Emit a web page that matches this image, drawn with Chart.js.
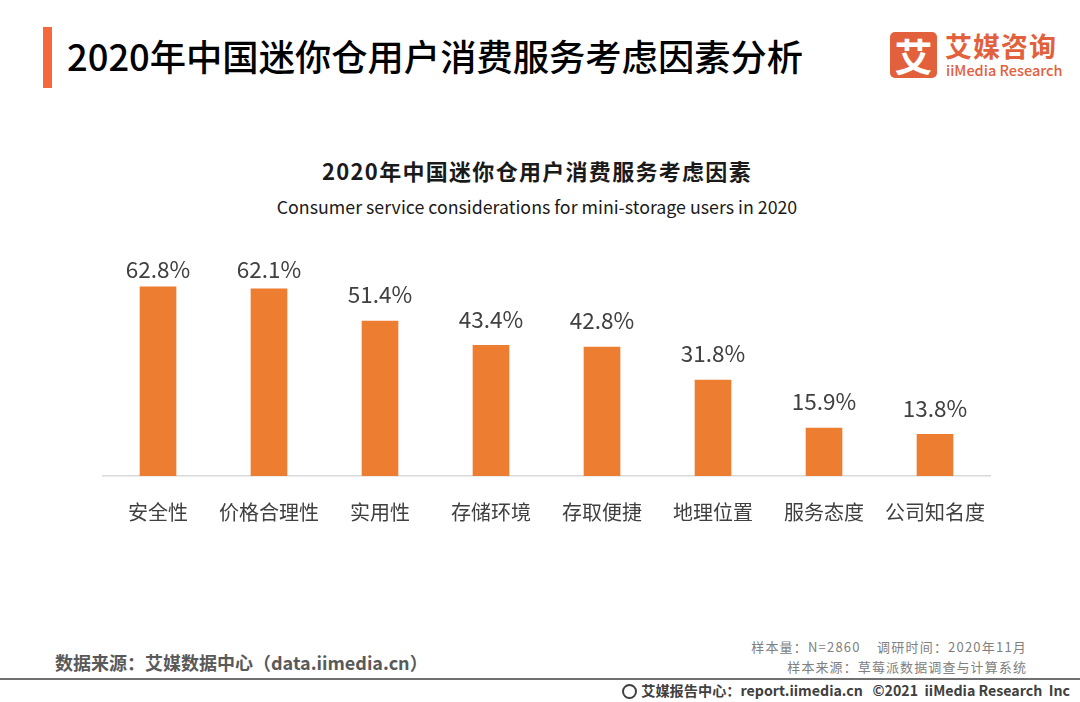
<!DOCTYPE html>
<html>
<head>
<meta charset="utf-8">
<script src="https://cdn.jsdelivr.net/npm/chart.js@4.4.0/dist/chart.umd.min.js"></script>
<style>
    body { margin: 0; width: 1080px; height: 702px; background: #fff; position: relative; overflow: hidden;
           font-family: "Noto Sans CJK SC", "Noto Sans", sans-serif; }
    .abs { position: absolute; white-space: nowrap; }
    #accent { left: 43px; top: 27px; width: 9px; height: 61px; background: #f4683a; }
    #mainTitle { left: 67px; top: 32px; font-size: 36.3px; line-height: 46px; font-weight: 500; color: #000; }
    #logoBox { left: 890px; top: 32px; width: 47px; height: 46px; background: #e2603b; border-radius: 5px;
               color: #fff; font-size: 38px; font-weight: 700; line-height: 46px; text-align: center; }
    #logoCn { left: 945px; top: 29px; font-size: 27px; line-height: 34px; font-weight: 700; color: #e2603b; letter-spacing: 1px; }
    #logoEn { left: 946px; top: 61px; font-size: 14.5px; line-height: 18px; font-weight: 500; color: #e2603b; }
    #chartTitle { left: 0; width: 1074px; top: 156px; text-align: center; font-size: 22px; line-height: 28px; font-weight: 700; color: #1a1a1a; letter-spacing: 1.3px; }
    #chartSub { left: 0; width: 1074px; top: 193px; text-align: center; font-size: 17.8px; line-height: 26px; color: #1a1a1a; }
    #chartBox { left: 0; top: 230px; width: 1080px; height: 318px; }
    #source { left: 55px; top: 649px; font-size: 18px; line-height: 26px; font-weight: 700; color: #595959; }
    #note1 { right: 53px; top: 638px; font-size: 13px; line-height: 18px; color: #808080; letter-spacing: 1.2px; }
    #note2 { right: 53px; top: 658px; font-size: 13px; line-height: 18px; color: #808080; letter-spacing: 1.1px; }
    #rule { left: 0; top: 678px; width: 1080px; height: 2px; background: #707070; }
    #report { right: 10px; top: 680px; font-size: 14.2px; line-height: 20px; font-weight: 700; color: #404040; }
    #report span.icon { display: inline-block; width: 15px; height: 15px; border: 2px solid #404040; border-radius: 50%;
                        vertical-align: -3px; margin-right: 4px; box-sizing: border-box; }
</style>
</head>
<body>
<div class="abs" id="accent"></div>
<div class="abs" id="mainTitle">2020年中国迷你仓用户消费服务考虑因素分析</div>
<div class="abs" id="logoBox">艾</div>
<div class="abs" id="logoCn">艾媒咨询</div>
<div class="abs" id="logoEn">iiMedia Research</div>
<div class="abs" id="chartTitle">2020年中国迷你仓用户消费服务考虑因素</div>
<div class="abs" id="chartSub">Consumer service considerations for mini-storage users in 2020</div>
<div class="abs" id="chartBox"><canvas id="myChart"></canvas></div>
<div class="abs" id="source">数据来源：艾媒数据中心（data.iimedia.cn）</div>
<div class="abs" id="note1">样本量：N=2860&nbsp;&nbsp;&nbsp;&nbsp;调研时间：2020年11月</div>
<div class="abs" id="note2">样本来源：草莓派数据调查与计算系统</div>
<div class="abs" id="rule"></div>
<div class="abs" id="report"><span class="icon"></span>艾媒报告中心：report.iimedia.cn&nbsp;&nbsp;&nbsp;©2021&nbsp;&nbsp;iiMedia Research&nbsp;&nbsp;Inc</div>

<script>
let categories = ['安全性', '价格合理性', '实用性', '存储环境', '存取便捷', '地理位置', '服务态度', '公司知名度'];
let shares = [62.8, 62.1, 51.4, 43.4, 42.8, 31.8, 15.9, 13.8];

let barColor = '#ed7d31';
let textColor = '#404040';

// value labels above each bar, kept inside the top of the plot area
let valueLabels = {
    id: 'valueLabels',
    afterDatasetsDraw(chart) {
        let ctx = chart.ctx;
        let meta = chart.getDatasetMeta(0);
        let minY = chart.chartArea.top + 31;
        ctx.save();
        ctx.font = '22.5px "Noto Sans CJK SC"';
        ctx.fillStyle = textColor;
        ctx.textAlign = 'center';
        ctx.textBaseline = 'bottom';
        meta.data.forEach(function(bar, i) {
            ctx.fillText(shares[i].toFixed(1) + '%', bar.x, Math.max(bar.y - 15, minY));
        });
        ctx.restore();
    }
};

let ctx = document.getElementById('myChart').getContext('2d');

let myChart = new Chart(ctx, {
    type: 'bar',
    data: {
        labels: categories,
        datasets: [{
            data: shares,
            backgroundColor: barColor,
            barThickness: 36
        }]
    },
    options: {
        responsive: true,
        maintainAspectRatio: false,
        animation: false,
        layout: { padding: { left: 102.5, right: 89.5, top: 20, bottom: 0 } },
        plugins: {
            legend: { display: false },
            tooltip: { enabled: false }
        },
        scales: {
            x: {
                grid: { display: false, drawTicks: false },
                border: { display: true, color: '#d9d9d9', width: 1.5 },
                ticks: {
                    color: textColor,
                    padding: 24,
                    font: { family: '"Noto Sans CJK SC"', size: 20 }
                }
            },
            y: {
                display: false,
                min: 0,
                max: 75
            }
        }
    },
    plugins: [valueLabels]
});
</script>
</body>
</html>
